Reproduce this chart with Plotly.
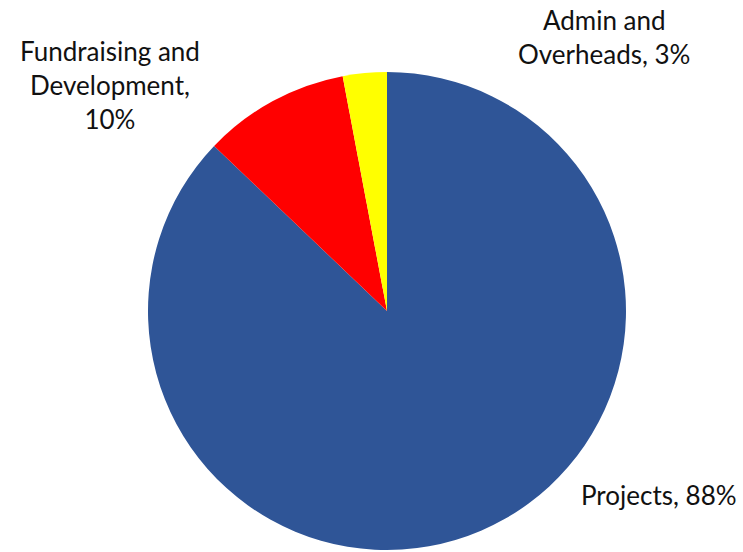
import plotly.graph_objects as go

W, H = 743, 552
categories = ["Projects", "Fundraising and Development", "Admin and Overheads"]
values = [88, 10, 3]
colors = ["#2F5597", "#FF0000", "#FFFF00"]
label_texts = ["Projects, 88%", "Fundraising and<br>Development,<br>10%", "Admin and<br>Overheads, 3%"]
label_px = [(659, 495), (110, 85), (604, 37)]

cx, cy, r = 387, 311, 239
fig = go.Figure(go.Pie(
    labels=categories, values=values, sort=False, direction="clockwise",
    rotation=0, marker=dict(colors=colors, line=dict(width=0)),
    textinfo="none", hoverinfo="label+percent", showlegend=False,
    domain=dict(x=[(cx - r) / W, (cx + r) / W], y=[(H - cy - r) / H, (H - cy + r) / H]),
))
for t, (px, py) in zip(label_texts, label_px):
    fig.add_annotation(x=px / W, y=1 - py / H, xref="paper", yref="paper", text=t,
                       showarrow=False, xanchor="center", yanchor="middle", align="center",
                       borderpad=0,
                       font=dict(family="Lato, Open Sans, sans-serif", size=26, color="#111111"))
fig.update_layout(width=W, height=H, margin=dict(l=0, r=0, t=0, b=0),
                  paper_bgcolor="white", plot_bgcolor="white")
fig.write_html("out.html", config={"displayModeBar": False},
               post_script="document.body.style.margin='0';document.body.style.overflow='hidden';")
